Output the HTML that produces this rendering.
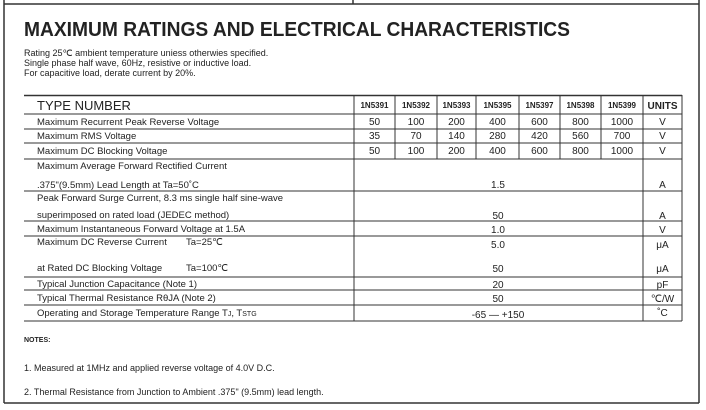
<!DOCTYPE html>
<html><head><meta charset="utf-8"><style>
html,body{margin:0;padding:0;background:#fff;}
svg{display:block;font-family:"Liberation Sans",Arial,sans-serif;}
text{fill:#222;}
</style></head><body>
<svg width="706" height="410" viewBox="0 0 706 410" xmlns="http://www.w3.org/2000/svg">
<g stroke="#333" fill="none">
<line x1="4" y1="0" x2="4" y2="403" stroke-width="1.5"/>
<line x1="699" y1="0" x2="699" y2="403" stroke-width="1.5"/>
<line x1="353" y1="0" x2="353" y2="4" stroke-width="1.5"/>
<line x1="4" y1="4" x2="699" y2="4" stroke-width="1.5"/>
<line x1="4" y1="403" x2="699" y2="403" stroke-width="1.5"/>
</g>
<text x="24" y="36" font-size="20" font-weight="bold" textLength="546" lengthAdjust="spacingAndGlyphs">MAXIMUM RATINGS AND ELECTRICAL CHARACTERISTICS</text>
<g font-size="9">
<text x="24" y="56">Rating 25℃ ambient temperature uniess otherwies specified.</text>
<text x="24" y="66">Single phase half wave, 60Hz, resistive or inductive load.</text>
<text x="24" y="76">For capacitive load, derate current by 20%.</text>
</g>
<g stroke="#333" stroke-width="1">
<line x1="24" y1="95.5" x2="682" y2="95.5" stroke-width="1.5"/>
<line x1="24" y1="114" x2="682" y2="114"/>
<line x1="24" y1="129" x2="682" y2="129"/>
<line x1="24" y1="143" x2="682" y2="143"/>
<line x1="24" y1="159" x2="682" y2="159"/>
<line x1="24" y1="191" x2="682" y2="191"/>
<line x1="24" y1="221" x2="682" y2="221"/>
<line x1="24" y1="236" x2="682" y2="236"/>
<line x1="24" y1="277" x2="682" y2="277"/>
<line x1="24" y1="290" x2="682" y2="290"/>
<line x1="24" y1="305" x2="682" y2="305"/>
<line x1="24" y1="321" x2="682" y2="321"/>
<line x1="354" y1="95" x2="354" y2="321"/>
<line x1="643" y1="95" x2="643" y2="321"/>
<line x1="682" y1="95" x2="682" y2="321"/>
<line x1="395" y1="95" x2="395" y2="159"/>
<line x1="437" y1="95" x2="437" y2="159"/>
<line x1="476" y1="95" x2="476" y2="159"/>
<line x1="519" y1="95" x2="519" y2="159"/>
<line x1="560" y1="95" x2="560" y2="159"/>
<line x1="601" y1="95" x2="601" y2="159"/>
</g>
<text x="37" y="110" font-size="13">TYPE NUMBER</text>
<g font-size="8" font-weight="bold" text-anchor="middle">
<text x="374.5" y="108">1N5391</text><text x="416" y="108">1N5392</text><text x="456.5" y="108">1N5393</text>
<text x="497.5" y="108">1N5395</text><text x="539.5" y="108">1N5397</text><text x="580.5" y="108">1N5398</text>
<text x="622" y="108">1N5399</text>
<text x="662.5" y="109" font-size="10">UNITS</text>
</g>
<g font-size="9.5">
<text x="37" y="125">Maximum Recurrent Peak Reverse Voltage</text>
<text x="37" y="139">Maximum RMS Voltage</text>
<text x="37" y="154">Maximum DC Blocking Voltage</text>
<text x="37" y="169">Maximum Average Forward Rectified Current</text>
<text x="37" y="188">.375"(9.5mm) Lead Length at Ta=50˚C</text>
<text x="37" y="201">Peak Forward Surge Current, 8.3 ms single half sine-wave</text>
<text x="37" y="218">superimposed on rated load (JEDEC method)</text>
<text x="37" y="232">Maximum Instantaneous Forward Voltage at 1.5A</text>
<text x="37" y="245">Maximum DC Reverse Current</text>
<text x="186" y="245">Ta=25℃</text>
<text x="37" y="271">at Rated DC Blocking Voltage</text>
<text x="186" y="271">Ta=100℃</text>
<text x="37" y="287">Typical Junction Capacitance (Note 1)</text>
<text x="37" y="301">Typical Thermal Resistance RθJA (Note 2)</text>
<text x="37" y="316">Operating and Storage Temperature Range T<tspan font-size="7">J</tspan>, T<tspan font-size="7">STG</tspan></text>
</g>
<g font-size="10" text-anchor="middle">
<text x="374.5" y="125">50</text><text x="416" y="125">100</text><text x="456.5" y="125">200</text><text x="497.5" y="125">400</text><text x="539.5" y="125">600</text><text x="580.5" y="125">800</text><text x="622" y="125">1000</text><text x="662.5" y="125">V</text>
<text x="374.5" y="139">35</text><text x="416" y="139">70</text><text x="456.5" y="139">140</text><text x="497.5" y="139">280</text><text x="539.5" y="139">420</text><text x="580.5" y="139">560</text><text x="622" y="139">700</text><text x="662.5" y="139">V</text>
<text x="374.5" y="154">50</text><text x="416" y="154">100</text><text x="456.5" y="154">200</text><text x="497.5" y="154">400</text><text x="539.5" y="154">600</text><text x="580.5" y="154">800</text><text x="622" y="154">1000</text><text x="662.5" y="154">V</text>
<text x="498" y="188">1.5</text><text x="662.5" y="188">A</text>
<text x="498" y="219">50</text><text x="662.5" y="219">A</text>
<text x="498" y="233">1.0</text><text x="662.5" y="233">V</text>
<text x="498" y="248">5.0</text><text x="662.5" y="248">μA</text>
<text x="498" y="272">50</text><text x="662.5" y="272">μA</text>
<text x="498" y="288">20</text><text x="662.5" y="288">pF</text>
<text x="498" y="302">50</text><text x="662.5" y="302">℃/W</text>
<text x="498" y="318">-65 — +150</text><text x="662.5" y="316">˚C</text>
</g>
<text x="24" y="342" font-size="7" font-weight="bold">NOTES:</text>
<text x="24" y="371" font-size="9">1. Measured at 1MHz and applied reverse voltage of 4.0V D.C.</text>
<text x="24" y="395" font-size="9">2. Thermal Resistance from Junction to Ambient .375" (9.5mm) lead length.</text>
</svg>
</body></html>
